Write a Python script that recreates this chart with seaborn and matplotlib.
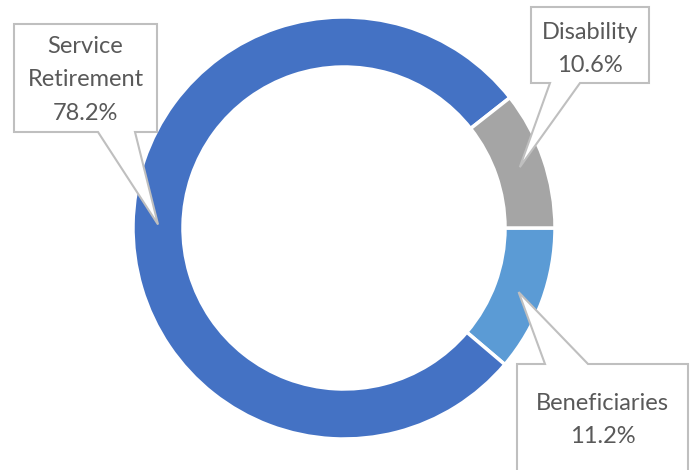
import numpy as np
import pandas as pd
import matplotlib
matplotlib.use("Agg")
import matplotlib.pyplot as plt
from matplotlib.patches import Polygon
import seaborn as sns

# slice data (clockwise from 3 o'clock)
categories = ["Beneficiaries", "Service Retirement", "Disability"]
shares = [11.2, 78.2, 10.6]
label_text = ["Beneficiaries", "Service\nRetirement", "Disability"]
colors = ["#5B9BD5", "#4472C4", "#A5A5A5"]

df = pd.DataFrame({"category": categories, "share": shares})

sns.set_style("white")
plt.rcParams["font.family"] = ["Lato", "DejaVu Sans"]

fig = plt.figure(figsize=(6.94, 4.70), dpi=100)
ax = fig.add_axes([0, 0, 1, 1])

scale = 211.0  # px per unit radius
cx, cy = 344.0, 228.0  # centre in px from top-left


def to_data(px, py):
    return (px - cx) / scale, (cy - py) / scale


ring = 50.0 / scale
wedges, _ = ax.pie(df["share"], colors=colors, startangle=0, counterclock=False,
                   radius=1.0, wedgeprops=dict(width=ring, edgecolor="white", linewidth=2.5))

# callout boxes: (x0, x1, y_top, y_bot, base_l, base_r, pointer side, text centre y) in px
boxes = {
    "Service Retirement": (14, 157, 24, 132, 98, 135, "bottom", 80),
    "Disability": (531, 649, 7, 83, 550, 580, "bottom", 49),
    "Beneficiaries": (517, 688, 364, 480, 545, 588, "top", 420),
}

mid_r = 1.0 - ring / 2
for cat, share, lab, w in zip(df["category"], df["share"], label_text, wedges):
    ang = np.deg2rad((w.theta1 + w.theta2) / 2)
    tip = (mid_r * np.cos(ang), mid_r * np.sin(ang))
    x0, x1, yt, yb, bl, br, side, tcy = boxes[cat]
    X0, YT = to_data(x0, yt)
    X1, YB = to_data(x1, yb)
    BL, _ = to_data(bl, 0)
    BR, _ = to_data(br, 0)
    if side == "bottom":
        verts = [(X0, YT), (X1, YT), (X1, YB), (BR, YB), tip, (BL, YB), (X0, YB)]
    else:
        verts = [(X0, YT), (BL, YT), tip, (BR, YT), (X1, YT), (X1, YB), (X0, YB)]
    _, ty = to_data(0, tcy)
    ax.add_patch(Polygon(verts, closed=True, facecolor="white", edgecolor="#BFBFBF",
                         linewidth=1.5, zorder=3))
    ax.text((X0 + X1) / 2, ty, f"{lab}\n{share:.1f}%", ha="center", va="center",
            fontsize=17, color="#595959", linespacing=1.75, zorder=4)

ax.set_xlim(-cx / scale, (694 - cx) / scale)
ax.set_ylim(-(470 - cy) / scale, cy / scale)
ax.set_aspect("equal")
ax.axis("off")

fig.savefig("out.png", dpi=100)
